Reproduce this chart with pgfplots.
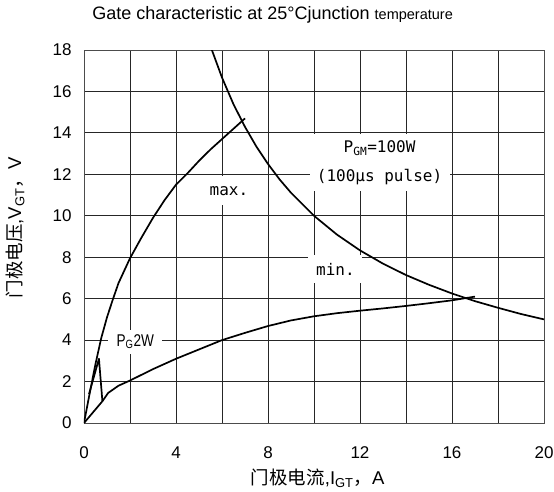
\documentclass[border=0pt]{standalone}
\usepackage{pgfplots}
\pgfplotsset{compat=1.18}
\usepackage{fontspec}
\setmainfont{Liberation Sans}
\newfontfamily\cjk{Noto Sans CJK SC}
\newfontfamily\mono{DejaVu Sans Mono}
\newfontfamily\narrow[FakeStretch=0.8]{Liberation Sans}
\pgfplotsset{curve/.style={black, line width=1.7pt, line join=round, no marks}}

\begin{document}
\begin{tikzpicture}
\begin{axis}[
  name=ax,
  scale only axis,
  width=460pt, height=373pt,
  xmin=0, xmax=20, ymin=0, ymax=18,
  xtick={0,4,...,20}, minor xtick={2,6,...,18},
  ytick={0,2,...,18},
  grid=both,
  major grid style={black!85, line width=0.8pt},
  minor grid style={black!85, line width=0.8pt},
  major tick length=0pt, minor tick length=0pt,
  axis line style={black!70, line width=0.9pt},
  tick label style={font=\fontsize{17}{20}\selectfont},
  /pgf/number format/assume math mode=true,
  xticklabel style={yshift=-20pt},
  yticklabel style={xshift=-9pt},
  title={Gate characteristic at 25°Cjunction {\fontsize{14.5}{16}\selectfont temperature}},
  title style={at={(axis description cs:0.41,1.067)}, anchor=base, yshift=0pt, font=\fontsize{18}{21}\selectfont},
  xlabel={{\cjk 门极电流},I\textsubscript{GT}{\cjk ，}A},
  ylabel={{\cjk 门极电压},V\textsubscript{GT}{\cjk ，}V},
  every axis x label/.style={at={(axis description cs:0.508,-0.148)}, anchor=center, font=\fontsize{18.5}{22}\selectfont},
  every axis y label/.style={at={(axis description cs:-0.15,0.523)}, anchor=center, rotate=90, font=\fontsize{18.5}{22}\selectfont},
]
% max.
\addplot[curve] coordinates {(0,0) (0.25,1.45) (0.5,2.85) (0.75,4.1) (1,5.1) (1.25,5.95) (1.5,6.75) (2,7.95) (2.5,8.95) (3,9.9) (3.5,10.75) (4,11.5) (4.5,12.05) (5,12.65) (5.5,13.2) (6,13.7) (6.5,14.2) (7,14.7)};
% PGM = 100 W
\addplot[curve] coordinates {(5.56,18) (6,16.67) (6.5,15.38) (7,14.29) (7.5,13.33) (8,12.5) (8.5,11.76) (9,11.11) (10,10) (11,9.09) (12,8.33) (13,7.69) (14,7.14) (15,6.67) (16,6.25) (17,5.88) (18,5.56) (19,5.26) (20,5)};
% min.
\addplot[curve] coordinates {(0,0) (0.8,1.05) (1.05,1.45) (1.5,1.8) (2,2.05) (3,2.6) (4,3.1) (5,3.55) (6,4.0) (7,4.35) (8,4.68) (9,4.95) (10,5.15) (11,5.3) (12,5.42) (13,5.53) (14,5.65) (15,5.78) (16,5.92) (17,6.1)};
% PG 2 W
\addplot[curve] coordinates {(0.22,1.4) (0.65,3.1) (0.8,1.05)};

\node[fill=white, inner sep=0pt, minimum width=54pt, minimum height=24pt, font=\narrow\fontsize{17}{20}\selectfont] at (axis cs:2.23,3.93) {P\textsubscript{G}2W};
\node[fill=white, inner sep=0pt, minimum width=53pt, minimum height=29pt, font=\mono\fontsize{16}{19}\selectfont] at (axis cs:6.3,11.2) {max.};
\node[fill=white, inner sep=0pt, minimum width=140pt, minimum height=57pt, align=center, font=\mono\fontsize{16}{29}\selectfont] at (axis cs:12.85,12.55) {P\textsubscript{GM}=100W\\(100µs pulse)};
\node[fill=white, inner sep=0pt, minimum width=54pt, minimum height=28pt, font=\mono\fontsize{16}{19}\selectfont] at (axis cs:10.93,7.43) {min.};
\end{axis}
\pgfresetboundingbox
\path ([shift={(-84pt,-68pt)}]ax.south west) rectangle ([shift={(470pt,423pt)}]ax.south west);
\end{tikzpicture}
\end{document}
